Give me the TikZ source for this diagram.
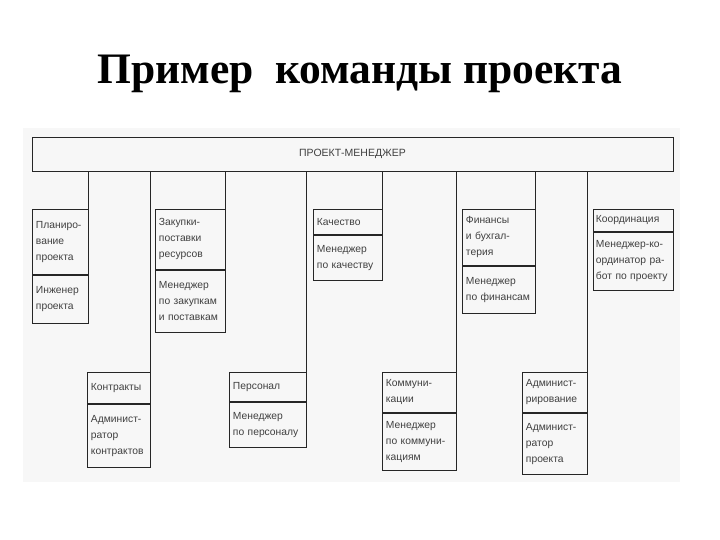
\documentclass[tikz,border=0pt]{standalone}
\usepackage{fontspec}
\setmainfont{Liberation Serif}
\newfontfamily\boxfont{Liberation Sans}
\usetikzlibrary{positioning}

\begin{document}
\begin{tikzpicture}[
    x=1pt,y=-1pt,
    node distance=0pt,
    cell/.style={rectangle,draw=black!85,line width=0.9pt,inner xsep=3.5pt,inner ysep=2pt,
                 align=left,text=black!75,font=\boxfont\fontsize{10.3}{16}\selectfont},
    head/.style={rectangle,draw=black!85,line width=0.9pt,minimum width=641pt,
                 minimum height=34pt,text=black!75,font=\boxfont\fontsize{10.5}{12}\selectfont},
    ttl/.style={anchor=base,font=\bfseries\fontsize{43.5}{50}\selectfont},
    link/.style={draw=black!85,line width=0.9pt},
]
\useasboundingbox (0,0) rectangle (720,540);

% ---- title and scanned sheet ----
\node[ttl] (title) at (360,84) {Пример\ \ команды проекта};
\fill[black!3] (23,128) rectangle (680,482);

% ---- project manager bar ----
\node[head] (pm) at (352.5,154) {ПРОЕКТ-МЕНЕДЖЕР};

% ---- upper row of functions ----
\node[cell,text width=49pt,minimum height=65pt,anchor=north west] (plan) at (32,209)
  {Планиро-\\вание\\проекта};
\node[cell,text width=49pt,minimum height=48pt,below=of plan] (plan2) {Инженер\\проекта};

\node[cell,text width=63pt,minimum height=60pt,anchor=north west] (zak) at (155,209)
  {Закупки-\\поставки\\ресурсов};
\node[cell,text width=63pt,minimum height=62pt,below=of zak] (zak2)
  {Менеджер\\по закупкам\\и поставкам};

\node[cell,text width=62pt,minimum height=25pt,anchor=north west] (kach) at (313,209)
  {Качество};
\node[cell,text width=62pt,minimum height=45pt,below=of kach] (kach2) {Менеджер\\по качеству};

\node[cell,text width=66pt,minimum height=56pt,anchor=north west] (fin) at (462,209)
  {Финансы\\и бухгал-\\терия};
\node[cell,text width=66pt,minimum height=47pt,below=of fin] (fin2) {Менеджер\\по финансам};

\node[cell,text width=75pt,inner xsep=2.5pt,minimum height=22pt,anchor=north west] (koord)
  at (593,209) {Координация};
\node[cell,text width=75pt,inner xsep=2.5pt,minimum height=58pt,below=of koord] (koord2)
  {Менеджер-ко-\\ординатор ра-\\бот по проекту};

% ---- lower row of functions ----
\node[cell,text width=56pt,minimum height=31pt,anchor=north west] (kontr) at (87,372)
  {Контракты};
\node[cell,text width=56pt,minimum height=63pt,below=of kontr] (kontr2)
  {Админист-\\ратор\\контрактов};

\node[cell,text width=70pt,minimum height=29pt,anchor=north west] (pers) at (229,372)
  {Персонал};
\node[cell,text width=70pt,minimum height=45pt,below=of pers] (pers2) {Менеджер\\по персоналу};

\node[cell,text width=67pt,minimum height=40pt,anchor=north west] (komm) at (382,372)
  {Коммуни-\\кации};
\node[cell,text width=67pt,minimum height=57pt,below=of komm] (komm2)
  {Менеджер\\по коммуни-\\кациям};

\node[cell,text width=58pt,minimum height=40pt,anchor=north west] (adm) at (522,372)
  {Админист-\\рирование};
\node[cell,text width=58pt,minimum height=61pt,below=of adm] (adm2)
  {Админист-\\ратор\\проекта};

% ---- drops from the bar ----
\foreach \b in {plan,kontr,zak,pers,kach,komm,fin,adm}
  \draw[link] (\b.north east) -- (\b.north east |- pm.south);

\end{tikzpicture}
\end{document}
